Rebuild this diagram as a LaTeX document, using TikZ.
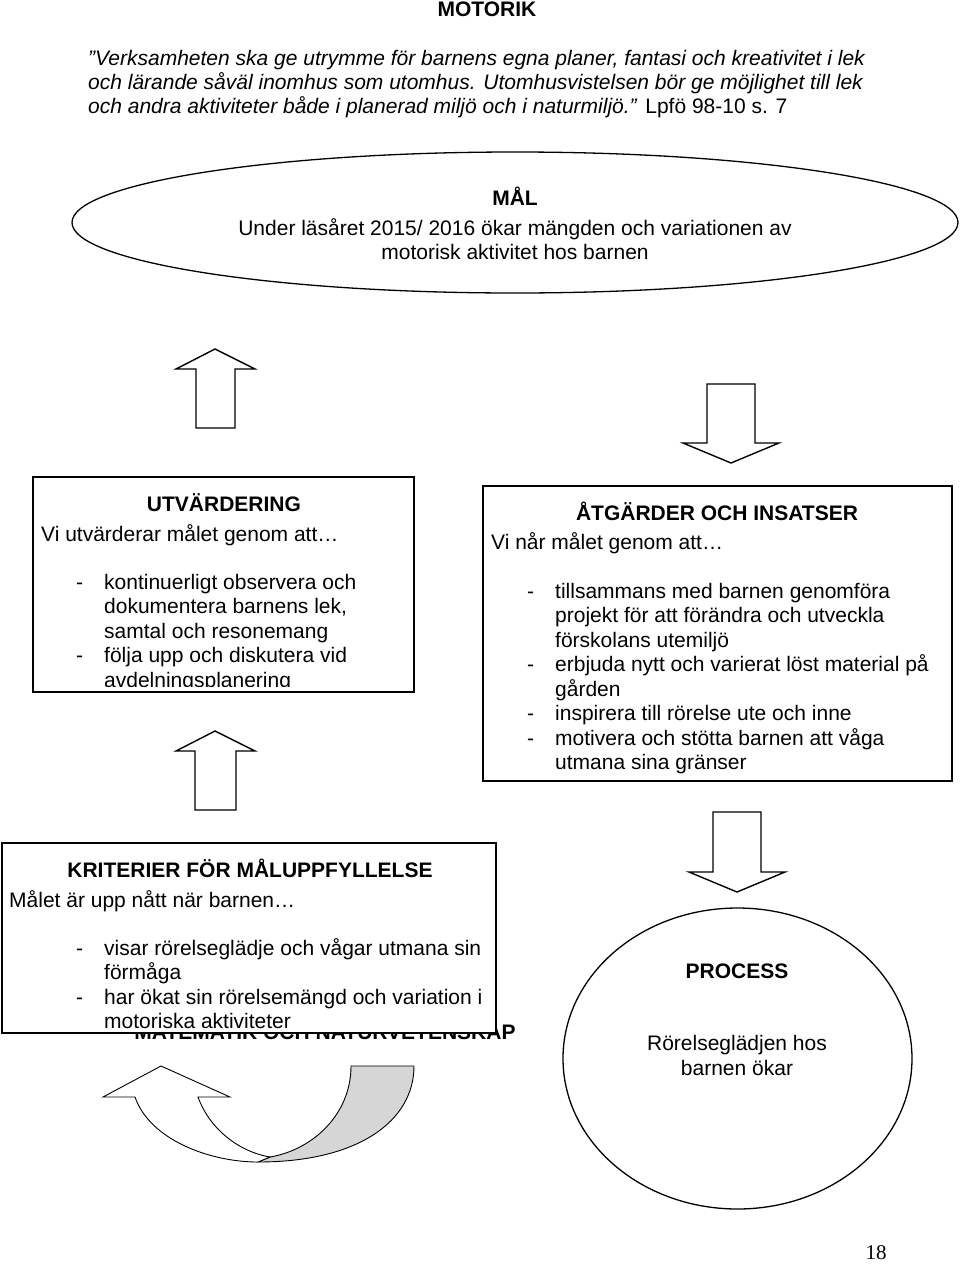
\documentclass[tikz,border=0pt]{standalone}
\usepackage{fontspec}
\setmainfont{Liberation Sans}
\newfontfamily\pagefont{Liberation Serif}
\usetikzlibrary{shapes.geometric}
\begin{document}
\tikzset{
  txt/.style={inner sep=0pt, font=\fontsize{21}{24.5}\selectfont},
  ttl/.style={inner sep=0pt, font=\fontsize{21}{24.5}\selectfont\bfseries},
  itxt/.style={inner sep=0pt, font=\fontsize{21}{24.5}\selectfont\itshape},
  boxline/.style={draw=black, line width=1.6pt, fill=white},
  blockarrow/.style={draw=black, line width=1.4pt, fill=white, line join=miter},
  oval/.style={draw=black, line width=1.3pt, ellipse, inner sep=0pt},
  curvearrow/.style={draw=black, line width=0.9pt},
}
\begin{tikzpicture}[x=1pt,y=-1pt]
\useasboundingbox (0,0) rectangle (960,1264);

% heading and quote
\node[ttl, anchor=base] (motorik) at (487,16) {MOTORIK};
\node[itxt, anchor=base west] (q1) at (88,65) {”Verksamheten ska ge utrymme för barnens egna planer, fantasi och kreativitet i lek};
\node[itxt, anchor=base west] (q2) at (88,89) {och lärande såväl inomhus som utomhus. Utomhusvistelsen bör ge möjlighet till lek};
\node[txt, anchor=base west] (q3) at (88,113) {\textit{och andra aktiviteter både i planerad miljö och i naturmiljö.”} Lpfö 98-10 s. 7};

% goal ellipse
\node[oval, minimum width=886pt, minimum height=141pt] (mal) at (515,222.5) {};
\node[ttl, anchor=base] (malt) at (515,205) {MÅL};
\node[txt, anchor=base] (mal1) at (515,235) {Under läsåret 2015/ 2016 ökar mängden och variationen av};
\node[txt, anchor=base] (mal2) at (515,259) {motorisk aktivitet hos barnen};

% block arrows
\draw[blockarrow] (215,349) -- (255,369) -- (235,369) -- (235,428) -- (196,428) -- (196,369) -- (176,369) -- cycle;
\draw[blockarrow] (215,731) -- (255,751) -- (236,751) -- (236,810) -- (195,810) -- (195,751) -- (176,751) -- cycle;
\draw[blockarrow] (731,463) -- (779,443) -- (755,443) -- (755,384) -- (707,384) -- (707,443) -- (683,443) -- cycle;
\draw[blockarrow] (737,892) -- (785,872) -- (761,872) -- (761,812) -- (713,812) -- (713,872) -- (689,872) -- cycle;

% UTVÄRDERING box
\draw[boxline] (33,477) rectangle (414,692);
\begin{scope}
\clip (33,477) rectangle (414,686);
\node[ttl, anchor=base] (utv) at (224,511) {UTVÄRDERING};
\node[txt, anchor=base west] (utv0) at (41,541) {Vi utvärderar målet genom att…};
\node[txt, anchor=base west] (ud1) at (76,589) {-};
\node[txt, anchor=base west] (u1) at (104,589) {kontinuerligt observera och};
\node[txt, anchor=base west] (u2) at (104,613.5) {dokumentera barnens lek,};
\node[txt, anchor=base west] (u3) at (104,638) {samtal och resonemang};
\node[txt, anchor=base west] (ud2) at (76,662.5) {-};
\node[txt, anchor=base west] (u4) at (104,662.5) {följa upp och diskutera vid};
\node[txt, anchor=base west] (u5) at (104,687) {avdelningsplanering};
\end{scope}

% ÅTGÄRDER box
\draw[boxline] (483,486) rectangle (952,781);
\node[ttl, anchor=base] (atg) at (717,520) {ÅTGÄRDER OCH INSATSER};
\node[txt, anchor=base west] (atg0) at (491,549) {Vi når målet genom att…};
\node[txt, anchor=base west] (ad1) at (527,598) {-};
\node[txt, anchor=base west] (a1) at (555,598) {tillsammans med barnen genomföra};
\node[txt, anchor=base west] (a2) at (555,622.5) {projekt för att förändra och utveckla};
\node[txt, anchor=base west] (a3) at (555,647) {förskolans utemiljö};
\node[txt, anchor=base west] (ad2) at (527,671.5) {-};
\node[txt, anchor=base west] (a4) at (555,671.5) {erbjuda nytt och varierat löst material på};
\node[txt, anchor=base west] (a5) at (555,696) {gården};
\node[txt, anchor=base west] (ad3) at (527,720.5) {-};
\node[txt, anchor=base west] (a6) at (555,720.5) {inspirera till rörelse ute och inne};
\node[txt, anchor=base west] (ad4) at (527,745) {-};
\node[txt, anchor=base west] (a7) at (555,745) {motivera och stötta barnen att våga};
\node[txt, anchor=base west] (a8) at (555,769.5) {utmana sina gränser};

% hidden heading behind the criteria box
\node[ttl, anchor=base] (mat) at (325,1039) {MATEMATIK OCH NATURVETENSKAP};

% KRITERIER box
\draw[boxline] (2,843) rectangle (496,1033);
\begin{scope}
\clip (2,843) rectangle (496,1028);
\node[ttl, anchor=base] (krit) at (250,877) {KRITERIER FÖR MÅLUPPFYLLELSE};
\node[txt, anchor=base west] (krit0) at (9,907) {Målet är upp nått när barnen…};
\node[txt, anchor=base west] (kd1) at (76,955) {-};
\node[txt, anchor=base west] (k1) at (104,955) {visar rörelseglädje och vågar utmana sin};
\node[txt, anchor=base west] (k2) at (104,979.5) {förmåga};
\node[txt, anchor=base west] (kd2) at (76,1004) {-};
\node[txt, anchor=base west] (k3) at (104,1004) {har ökat sin rörelsemängd och variation i};
\node[txt, anchor=base west] (k4) at (104,1028.5) {motoriska aktiviteter};
\end{scope}

% PROCESS ellipse
\node[oval, minimum width=349pt, minimum height=301pt] (proc) at (737.5,1058.5) {};
\node[ttl, anchor=base] (proct) at (737,978) {PROCESS};
\node[txt, anchor=base] (proc1) at (737,1050) {Rörelseglädjen hos};
\node[txt, anchor=base] (proc2) at (737,1075) {barnen ökar};

% curved up arrow
\draw[curvearrow, fill=black!16] (351,1066) -- (414,1066) .. controls (414,1120) and (360,1162) .. (258,1162)
  -- (270,1157) .. controls (312,1150) and (351,1115) .. (351,1066) -- cycle;
\draw[curvearrow, fill=white] (161,1066) -- (230,1097) -- (198,1097) .. controls (210,1130) and (240,1152) .. (270,1157)
  -- (258,1162) .. controls (210,1162) and (150,1140) .. (135,1097) -- (103,1097) -- cycle;

% page number
\node[inner sep=0pt, anchor=base, font=\pagefont\fontsize{21}{24}\selectfont] (pnum) at (876,1259) {18};
\end{tikzpicture}
\end{document}
